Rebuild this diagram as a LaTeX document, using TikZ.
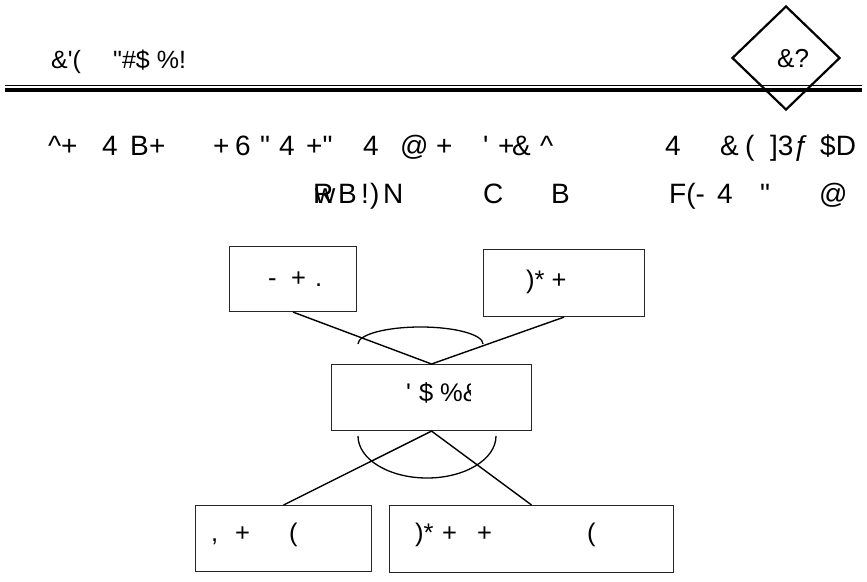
\documentclass[tikz,border=0pt]{standalone}
\usepackage{fontspec}
\usetikzlibrary{shapes.geometric}
\newfontfamily\lib{Liberation Sans}
\newcommand\tk[2]{\makebox[0pt][l]{\hspace*{#1pt}#2}}
\newcommand\sq{\textquotesingle}
\tikzset{
  boxnode/.style={draw=black!85, line width=1.1pt, fill=white, inner sep=0pt, anchor=north west},
  lbl/.style={inner sep=0pt, anchor=base west, font=\lib\fontsize{25.5}{30}\selectfont},
  hdr/.style={inner sep=0pt, anchor=base west, font=\lib\fontsize{25}{30}\selectfont},
  big/.style={inner sep=0pt, anchor=base west, font=\lib\fontsize{28}{33}\selectfont},
  conn/.style={line width=1.4pt, black},
  brace/.style={line width=1.3pt, black}
}
\begin{document}
\begin{tikzpicture}[x=1pt,y=-1pt]
\useasboundingbox (0,0) rectangle (867,581);
% diamond
\node[draw, diamond, line width=2.2pt, minimum width=108pt, minimum height=104pt, inner sep=0pt] (dmd) at (786,58) {};
\node[big, font=\lib\fontsize{26}{30}\selectfont] (dtxt) at (777,67) {\&?};
% header rule
\coordinate (ruleL) at (5,85.5);
\coordinate (ruleR) at (862,85.5);
\draw[line width=1.2pt] (ruleL) -- (ruleR);
\draw[line width=4pt] ([yshift=-4.5pt]ruleL) -- ([yshift=-4.5pt]ruleR);
% header text
\node[hdr] (head) at (51,68) {\tk{0}{\&\sq(}\tk{62}{"\#\$ \%!}\hspace*{136pt}};
% line 2
\node[big] (line2) at (48,155) {%
\tk{0}{\textasciicircum}\tk{13}{+}\tk{54}{4}\tk{82}{B}\tk{101}{+}%
\tk{165}{+}\tk{187}{6}\tk{212}{"}\tk{231}{4}\tk{258}{+"}%
\tk{315}{4}\tk{352}{@}\tk{388}{+}\tk{435}{\sq}\tk{450}{+}\tk{464}{\&}\tk{492}{\textasciicircum}%
\tk{617}{4}\tk{672}{\&}\tk{697}{(}\tk{722}{]3ƒ}\tk{772}{\$D}\hspace*{810pt}};
% line 3
\node[big] (line3) at (313,203) {%
\tk{0}{R}\tk{2}{w}\tk{25}{B}\tk{48}{!}\tk{57}{)}\tk{70}{N}%
\tk{170}{C}\tk{238}{B}\tk{356}{F(-}\tk{404}{4}\tk{447}{"}\tk{506}{@}\hspace*{540pt}};
% boxes
\node[boxnode, minimum width=127pt, minimum height=65pt] (b1) at (229,246) {};
\node[boxnode, minimum width=161pt, minimum height=67pt] (b2) at (483,249) {};
\node[boxnode, minimum width=200pt, minimum height=66pt] (bm) at (331,364) {};
\node[boxnode, minimum width=176pt, minimum height=66pt] (b3) at (195,505) {};
\node[boxnode, minimum width=284pt, minimum height=67pt] (b4) at (389,505) {};
% box texts
\node[lbl] (t1) at (268,286) {\tk{0}{-}\tk{23}{+}\tk{47}{.}\hspace*{55pt}};
\node[lbl] (t2) at (526,288) {)* +};
\begin{scope}
\clip (331,364) rectangle (470,430);
\node[lbl] (tm) at (406,401) {\tk{0}{\sq}\tk{13}{\$}\tk{34}{\%\&}\hspace*{70pt}};
\end{scope}
\node[lbl] (t3) at (211,541) {\tk{0}{,}\tk{24}{+}\tk{78}{(}\hspace*{90pt}};
\node[lbl] (t4) at (415,541) {\tk{0}{)*}\tk{27}{+}\tk{62}{+}\tk{172}{(}\hspace*{180pt}};
% connectors
\draw[conn] (b1.south) -- (bm.north);
\draw[conn] (b2.south) -- (bm.north);
\draw[conn] (bm.south) -- (b3.north);
\draw[conn] (bm.south) -- (b4.north);
% arcs
\coordinate (ua1) at (358,344);
\coordinate (ua2) at (420.5,327);
\coordinate (ua3) at (483,344);
\draw[brace] (ua1) .. controls (358,334.6) and (385.8,327) .. (ua2) .. controls (455.2,327) and (483,334.6) .. (ua3);
\coordinate (la1) at (358,436);
\coordinate (la2) at (427,478);
\coordinate (la3) at (496,436);
\draw[brace] (la1) .. controls (358,459.2) and (388.9,478) .. (la2) .. controls (465.1,478) and (496,459.2) .. (la3);
\end{tikzpicture}
\end{document}
